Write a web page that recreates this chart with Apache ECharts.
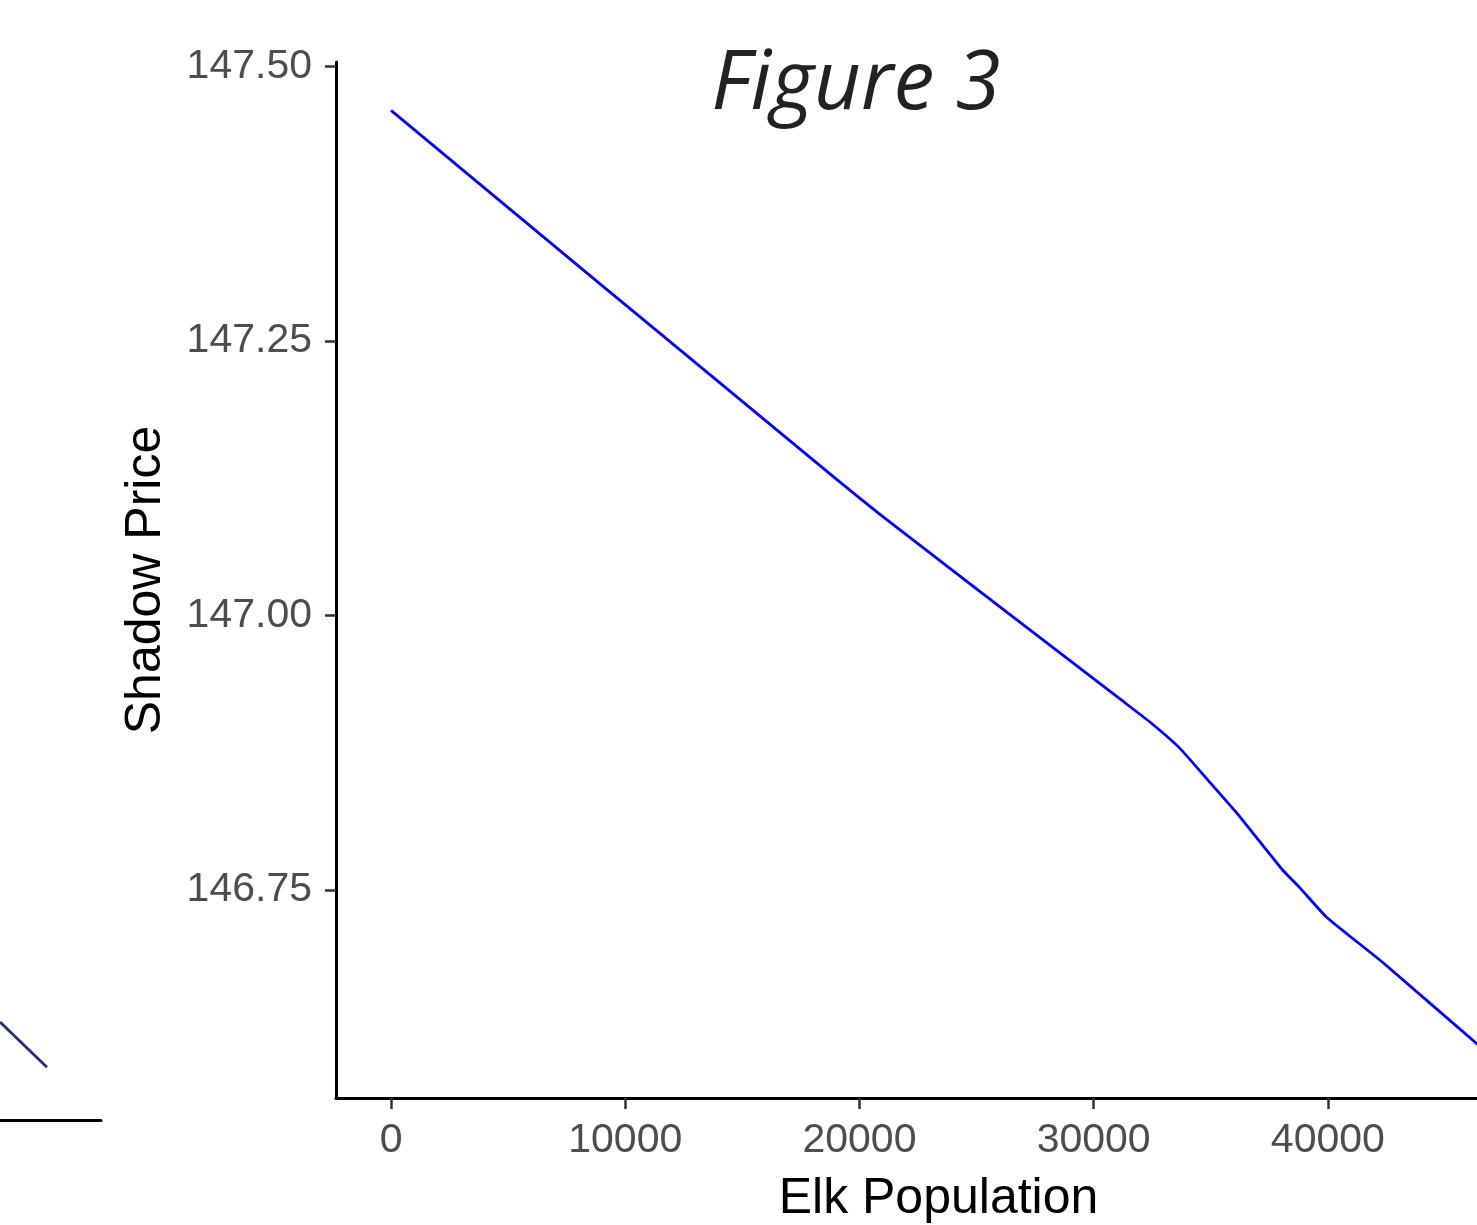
<!DOCTYPE html>
<html>
<head>
<meta charset="utf-8">
<title>Figure 3</title>
<script src="https://cdn.jsdelivr.net/npm/echarts@6/dist/echarts.min.js"></script>
<style>
    html, body { margin: 0; padding: 0; background: #fff; }
    #chart { width: 1477px; height: 1225px; }
</style>
</head>
<body>
<div id="chart"></div>
<script>
    // elk population vs shadow price
    var elkPop = [0, 8922, 11484, 18741, 21302, 28559, 31121, 32401, 33682, 34963, 36115, 38079, 38805, 39957, 42348, 46361, 46800];
    var shadowPrice = [147.460, 147.302, 147.257, 147.129, 147.085, 146.966, 146.924, 146.903, 146.879, 146.848, 146.820, 146.768, 146.752, 146.725, 146.684, 146.610, 146.603];
    var xTicks = [0, 10000, 20000, 30000, 40000];
    var yTicks = [146.75, 147.00, 147.25, 147.50];

    // tail of the neighbouring panel, cut by the left edge
    var tailX = [0, 46.5];
    var tailY = [0.445, 0.24];

    var mainData = elkPop.map(function (x, i) { return [x, shadowPrice[i]]; });
    var tailData = tailX.map(function (x, i) { return [x, tailY[i]]; });

    var chart = echarts.init(document.getElementById('chart'));
    chart.setOption({
        backgroundColor: '#fff',
        animation: false,
        title: {
            text: 'Figure 3',
            left: 851,
            top: 40,
            textAlign: 'center',
            textStyle: {
                fontFamily: 'Open Sans',
                fontStyle: 'italic',
                fontWeight: 'normal',
                fontSize: 82,
                color: '#222'
            }
        },
        grid: [
            { left: 336, top: 62, bottom: 127, right: -64, outerBoundsMode: 'none' },
            { left: 0, top: 900, bottom: 105, right: 1376, outerBoundsMode: 'none' }
        ],
        xAxis: [
            {
                type: 'value',
                gridIndex: 0,
                min: -2350,
                max: 49100,
                name: 'Elk Population',
                nameLocation: 'middle',
                nameGap: 76,
                nameTextStyle: { fontFamily: 'Liberation Sans', fontSize: 50, color: '#000' },
                axisLine: { onZero: false, lineStyle: { color: '#000', width: 3 } },
                axisTick: { customValues: xTicks, length: 11, lineStyle: { color: '#333', width: 2.5 } },
                axisLabel: {
                    customValues: xTicks,
                    margin: 22,
                    fontFamily: 'Liberation Sans',
                    fontSize: 41,
                    color: '#4d4d4d',
                    formatter: function (v) { return String(v); }
                },
                splitLine: { show: false }
            },
            {
                type: 'value',
                gridIndex: 1,
                min: 0,
                max: 100,
                axisLine: { onZero: false, lineStyle: { color: '#000', width: 3 } },
                axisTick: { show: false },
                axisLabel: { show: false },
                splitLine: { show: false }
            }
        ],
        yAxis: [
            {
                type: 'value',
                gridIndex: 0,
                min: 146.5606,
                max: 147.5041,
                name: 'Shadow Price',
                nameLocation: 'middle',
                nameGap: 165,
                nameTextStyle: { fontFamily: 'Liberation Sans', fontSize: 50, color: '#000' },
                axisLine: { onZero: false, lineStyle: { color: '#000', width: 3 } },
                axisTick: { customValues: yTicks, length: 11, lineStyle: { color: '#333', width: 2.5 } },
                axisLabel: {
                    customValues: yTicks,
                    margin: 24,
                    fontFamily: 'Liberation Sans',
                    fontSize: 41,
                    color: '#4d4d4d',
                    formatter: function (v) { return v.toFixed(2); }
                },
                splitLine: { show: false }
            },
            {
                type: 'value',
                gridIndex: 1,
                min: 0,
                max: 1,
                show: false
            }
        ],
        series: [
            {
                type: 'line',
                xAxisIndex: 0,
                yAxisIndex: 0,
                data: mainData,
                smooth: 0.15,
                showSymbol: false,
                lineStyle: { color: '#0000ff', width: 2.8 }
            },
            {
                type: 'line',
                xAxisIndex: 1,
                yAxisIndex: 1,
                data: tailData,
                showSymbol: false,
                lineStyle: { color: '#2a2a88', width: 2.8 }
            }
        ]
    });
</script>
</body>
</html>
